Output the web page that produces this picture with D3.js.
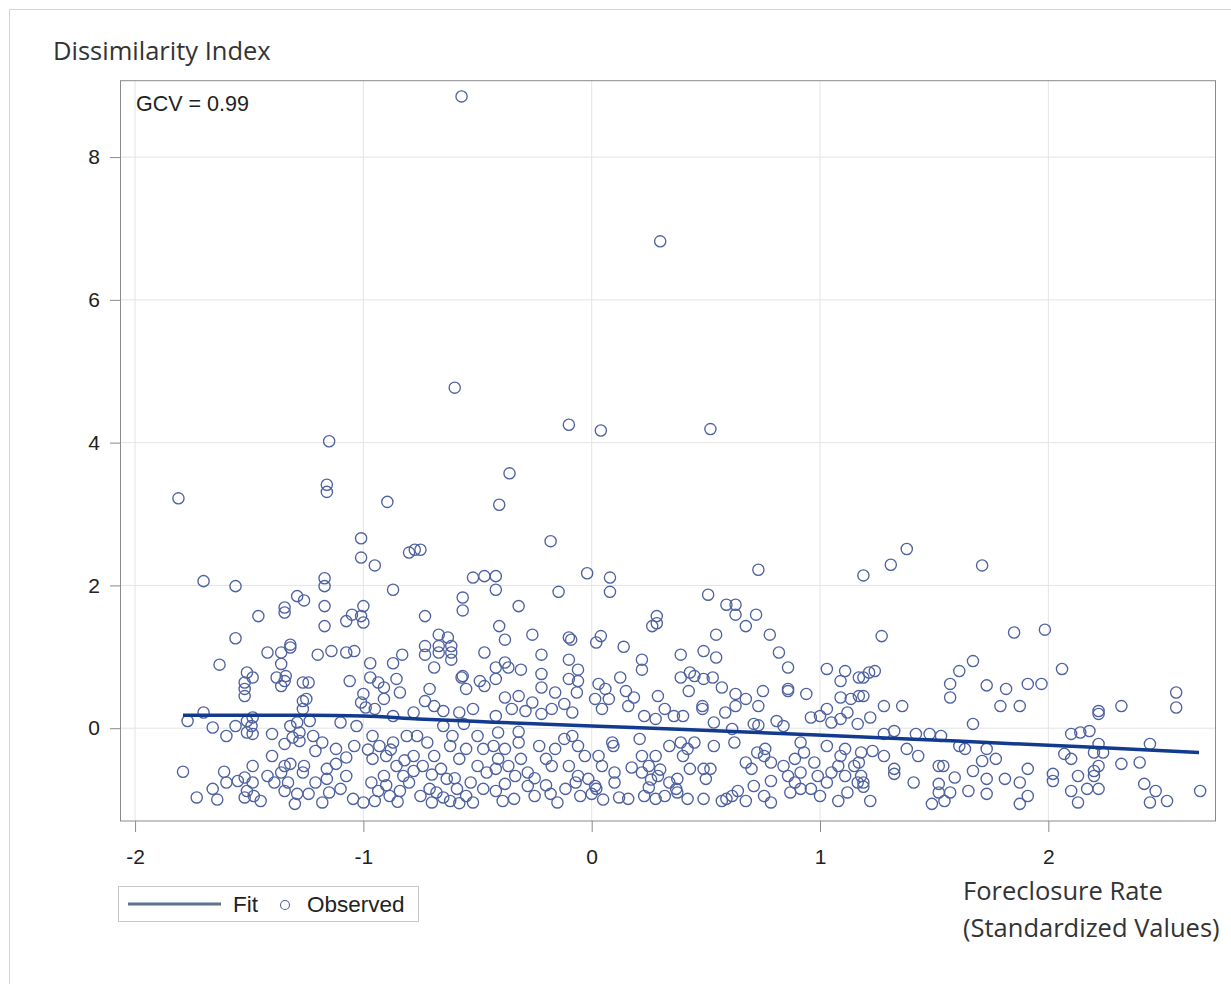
<!DOCTYPE html>
<html>
<head>
<meta charset="utf-8">
<script src="https://cdn.jsdelivr.net/npm/d3@7"></script>
<style>
  body { margin: 0; background: #fff; }
  svg { display: block; }
</style>
</head>
<body>
<div class="chart"></div>
<script>
// axis ticks
const xTicks = [-2, -1, 0, 1, 2];
const yTicks = [0, 2, 4, 6, 8];

// fitted curve (GCV spline)
const fitX = [-1.79, -1.5, -1.24, -1.0, -0.76, -0.43, 0, 0.38, 0.8, 1.19, 1.6, 2.0, 2.35, 2.66];
const fitY = [0.18, 0.18, 0.18, 0.17, 0.13, 0.085, 0.03, -0.015, -0.07, -0.125, -0.18, -0.24, -0.29, -0.34];

// observed points [foreclosure rate, dissimilarity index]
const observed = [
  [-0.57,8.85],[0.30,6.82],[-0.60,4.77],[-1.15,4.02],[-0.10,4.25],[0.04,4.17],[0.52,4.19],
  [-1.16,3.41],[-1.16,3.31],[-1.81,3.22],[-0.36,3.57],[-0.405,3.13],[-0.895,3.17],
  [-1.01,2.66],[-1.01,2.39],[-0.95,2.28],[-0.80,2.46],[-0.775,2.50],[-0.75,2.50],
  [-0.18,2.62],[0.73,2.22],[1.19,2.14],[1.31,2.29],[1.38,2.51],[1.71,2.28],
  [-1.70,2.06],[-1.56,1.99],[-1.17,2.10],[-1.17,1.99],[-0.87,1.94],
  [-0.52,2.11],[-0.47,2.13],[-0.42,2.13],[-0.42,1.94],[-0.02,2.17],[0.08,2.11],[0.08,1.91],[-0.145,1.91],[-0.32,1.71],
  [0.51,1.87],[0.59,1.73],[0.63,1.73],[0.63,1.59],[0.72,1.59],[0.675,1.43],[0.78,1.31],[0.82,1.06],[0.86,0.85],[1.03,0.83],
  [0.545,1.31],[0.545,0.99],[0.49,1.08],[0.39,1.03],[0.285,1.57],[0.285,1.47],[0.265,1.43],[0.14,1.14],[0.04,1.29],[0.02,1.20],[0.22,0.96],[0.22,0.82],
  [-0.10,1.27],[-0.09,1.24],[-0.10,0.96],[-0.22,1.03],[-0.26,1.31],[-0.405,1.43],[-0.38,1.24],[-0.47,1.06],[-0.38,0.92],[-0.365,0.85],[-0.31,0.82],[-0.06,0.82],[-0.42,0.85],
  [-1.29,1.85],[-1.26,1.79],[-1.17,1.71],[-1.345,1.69],[-1.345,1.62],[-1.46,1.57],[-1.17,1.43],[-1.0,1.71],[-1.05,1.59],[-1.075,1.50],[-1.01,1.57],[-1.0,1.48],[-0.73,1.57],[-0.565,1.83],[-0.565,1.65],
  [-1.56,1.26],[-1.42,1.06],[-1.36,1.06],[-1.32,1.17],[-1.32,1.13],[-1.36,0.90],[-1.63,0.89],[-1.20,1.03],[-1.14,1.08],[-1.075,1.06],[-1.04,1.08],[-0.97,0.91],[-0.87,0.91],[-0.83,1.03],
  [-0.67,1.31],[-0.63,1.27],[-0.73,1.15],[-0.67,1.15],[-0.615,1.15],[-0.67,1.06],[-0.615,1.06],[-0.73,1.03],[-0.615,0.96],[-0.69,0.85],[-0.565,0.73],[-1.51,0.78],
  [1.27,1.29],[1.85,1.34],[1.985,1.38],[1.67,0.94],[1.61,0.80],[1.57,0.62],[1.57,0.43],[1.73,0.60],[1.815,0.55],[1.91,0.62],[1.97,0.62],[1.79,0.31],[1.875,0.31],
  [1.24,0.80],[1.215,0.78],[1.19,0.71],[1.19,0.45],[1.28,0.31],[1.36,0.31],[1.22,0.15],[1.67,0.06],
  [2.06,0.83],[2.56,0.50],[2.56,0.29],[2.32,0.31],[2.22,0.24],[2.22,0.20],
  // left part of the band
  [-1.485,0.71],[-1.52,0.64],[-1.52,0.55],[-1.52,0.45],[-1.38,0.71],[-1.345,0.66],[-1.36,0.59],[-1.34,0.73],[-1.265,0.64],[-1.265,0.38],
  [-1.70,0.22],[-1.77,0.10],[-1.66,0.01],[-1.60,-0.11],[-1.56,0.03],[-1.51,0.10],[-1.485,0.15],[-1.49,0.03],[-1.51,-0.06],[-1.485,-0.08],
  [-1.40,-0.08],[-1.345,-0.22],[-1.32,0.03],[-1.29,0.08],[-1.28,-0.06],[-1.28,-0.18],[-1.31,-0.13],[-1.40,-0.39],
  [-1.79,-0.61],[-1.61,-0.61],[-1.60,-0.76],[-1.66,-0.85],[-1.73,-0.97],[-1.64,-1.0],
  [-1.55,-0.74],[-1.52,-0.69],[-1.485,-0.53],[-1.485,-0.76],[-1.51,-0.88],[-1.48,-0.95],[-1.45,-1.02],[-1.52,-0.97],
  [-1.42,-0.67],[-1.39,-0.76],[-1.36,-0.62],[-1.345,-0.53],[-1.32,-0.50],[-1.33,-0.76],[-1.345,-0.88],[-1.29,-0.92],[-1.30,-1.06],[-1.265,-0.62],
  // -1.25 .. -0.45
  [-1.24,0.64],[-1.06,0.66],[-0.97,0.71],[-0.935,0.64],[-0.91,0.57],[-0.855,0.69],[-0.84,0.50],[-0.71,0.55],[-0.73,0.38],[-0.69,0.31],[-0.57,0.71],[-0.55,0.55],[-0.49,0.66],[-0.47,0.59],
  [-1.0,0.48],[-1.01,0.36],[-0.99,0.29],[-0.91,0.41],[-0.95,0.27],[-1.25,0.41],[-1.265,0.27],
  [-0.87,0.17],[-0.78,0.22],[-0.65,0.24],[-0.58,0.22],[-0.52,0.27],[-1.235,0.10],[-1.10,0.08],[-1.03,0.03],
  [-1.22,-0.11],[-1.18,-0.20],[-1.21,-0.32],[-1.12,-0.29],[-1.075,-0.41],[-1.04,-0.25],[-1.26,-0.53],[-1.16,-0.57],[-1.16,-0.71],[-1.21,-0.76],[-1.24,-0.92],[-1.15,-0.90],[-1.18,-1.04],[-1.075,-0.67],[-1.045,-0.99],[-1.0,-1.04],
  [-0.96,-0.11],[-0.93,-0.25],[-0.96,-0.43],[-0.90,-0.39],[-0.87,-0.20],[-0.855,-0.53],[-0.91,-0.67],[-0.965,-0.76],[-0.935,-0.88],[-0.885,-0.95],[-0.84,-0.88],[-0.825,-0.67],[-0.80,-0.76],[-0.78,-0.39],[-0.765,-0.11],[-0.81,-0.11],
  [-0.72,-0.20],[-0.69,-0.39],[-0.74,-0.53],[-0.66,-0.57],[-0.635,-0.71],[-0.71,-0.85],[-0.65,-0.97],[-0.62,-1.02],[-0.75,-0.95],[-0.59,-0.85],[-0.58,-0.43],[-0.55,-0.29],[-0.61,-0.11],[-0.50,-0.11],[-0.475,-0.29],[-0.50,-0.53],[-0.46,-0.62],[-0.53,-0.76],[-0.475,-0.85],[-0.52,-1.04],
  [-0.65,0.03],[-0.56,0.06],
  [-0.98,-0.30],[-0.88,-0.30],[-0.82,-0.45],[-0.70,-0.65],[-0.60,-0.70],[-0.68,-0.90],[-0.55,-0.95],[-0.90,-0.80],[-1.10,-0.85],[-1.12,-0.50],[-0.62,-0.25],[-0.78,-0.60],[-0.95,-1.02],[-0.85,-1.03],[-0.58,-1.05],[-0.70,-1.04],
  // -0.45 .. 0.4
  [-0.42,0.69],[-0.22,0.76],[-0.22,0.57],[-0.10,0.69],[-0.06,0.66],[-0.065,0.50],[-0.16,0.50],[-0.12,0.34],
  [-0.38,0.43],[-0.32,0.45],[-0.26,0.36],[-0.35,0.27],[-0.29,0.24],[-0.22,0.20],[-0.175,0.27],
  [0.03,0.62],[0.06,0.55],[0.125,0.71],[0.15,0.52],[0.185,0.43],[0.16,0.31],[0.29,0.45],[0.045,0.27],[0.015,0.41],[0.075,0.41],
  [0.23,0.17],[0.28,0.13],[0.32,0.27],[0.36,0.17],[-0.42,0.17],[-0.085,0.22],
  [-0.41,-0.06],[-0.43,-0.25],[-0.38,-0.29],[-0.41,-0.43],[-0.42,-0.57],[-0.365,-0.53],[-0.32,-0.20],[-0.31,-0.43],[-0.28,-0.62],[-0.335,-0.67],[-0.38,-0.78],[-0.42,-0.88],[-0.39,-1.02],[-0.34,-0.99],[-0.28,-0.81],[-0.25,-0.95],[-0.23,-0.25],[-0.20,-0.43],[-0.175,-0.53],[-0.16,-0.29],[-0.18,-0.92],[-0.15,-1.04],[-0.115,-0.85],[-0.10,-0.53],[-0.085,-0.11],[-0.06,-0.25],[-0.03,-0.39],[-0.06,-0.67],[-0.015,-0.71],[0.015,-0.81],[0.0,-0.92],[-0.07,-0.76],[0.03,-0.39],[0.09,-0.20],[0.095,-0.25],[0.045,-0.53],[0.10,-0.62],[0.10,-0.76],[0.12,-0.97],[0.16,-0.99],[0.175,-0.55],[0.22,-0.39],[0.25,-0.53],[0.28,-0.39],[0.22,-0.62],[0.29,-0.67],[0.34,-0.76],[0.25,-0.83],[0.28,-0.99],[0.32,-0.95],[0.37,-0.85],[0.21,-0.15],[0.34,-0.25],
  [-0.25,-0.70],[-0.20,-0.80],[-0.05,-0.95],[0.05,-1.0],[0.02,-0.85],[0.26,-0.72],[0.30,-0.58],[-0.32,-0.05],[-0.12,-0.15],[0.23,-0.95],
  // 0.4 .. 1.2
  [0.39,0.71],[0.43,0.78],[0.45,0.73],[0.49,0.69],[0.53,0.71],[0.425,0.52],[0.57,0.57],[0.63,0.48],[0.675,0.41],[0.75,0.52],[0.73,0.31],[0.86,0.55],[0.86,0.52],[0.94,0.48],[0.63,0.31],[0.585,0.22],[0.485,0.31],[0.485,0.27],
  [0.40,0.17],[0.535,0.08],[0.615,-0.01],[0.71,0.06],[0.73,0.04],[0.81,0.10],[0.84,0.03],
  [1.11,0.80],[1.09,0.66],[1.17,0.71],[1.09,0.43],[1.135,0.41],[1.17,0.45],[1.03,0.27],[0.96,0.15],[1.0,0.17],[1.05,0.08],[1.12,0.22],[1.165,0.06],[1.09,0.13],
  [0.39,-0.20],[0.42,-0.29],[0.45,-0.20],[0.40,-0.39],[0.535,-0.25],[0.625,-0.20],
  [0.43,-0.57],[0.49,-0.57],[0.52,-0.57],[0.50,-0.71],[0.375,-0.71],[0.375,-0.90],[0.42,-0.99],[0.49,-0.99],[0.59,-0.99],[0.64,-0.88],[0.675,-0.48],[0.70,-0.57],[0.725,-0.34],[0.755,-0.39],[0.76,-0.29],[0.785,-0.48],[0.785,-0.74],[0.71,-0.81],[0.755,-0.95],[0.785,-1.04],[0.675,-1.02],[0.84,-0.53],[0.89,-0.43],[0.86,-0.67],[0.89,-0.76],[0.87,-0.90],[0.915,-0.85],[0.915,-0.62],[0.93,-0.34],[0.975,-0.48],[0.99,-0.67],[0.96,-0.85],[1.0,-0.95],[1.03,-0.76],[1.05,-0.62],[1.08,-0.53],[1.11,-0.67],[1.09,-0.39],[1.03,-0.25],[1.11,-0.29],[1.15,-0.53],[1.165,-0.76],[1.08,-1.02],[1.12,-0.90],[0.915,-0.20],[1.18,-0.34],[0.57,-1.02],[0.615,-0.95],
  // 1.2 .. 2.0
  [1.28,-0.08],[1.325,-0.04],[1.42,-0.08],[1.48,-0.08],[1.53,-0.11],[1.23,-0.32],[1.28,-0.39],[1.38,-0.29],[1.43,-0.39],[1.61,-0.25],[1.635,-0.29],[1.73,-0.29],[1.77,-0.43],[1.71,-0.46],[1.17,-0.48],
  [1.325,-0.57],[1.325,-0.64],[1.52,-0.53],[1.54,-0.53],[1.59,-0.69],[1.67,-0.60],[1.73,-0.71],[1.81,-0.71],[1.875,-0.76],[1.91,-0.57],[1.41,-0.76],[1.52,-0.78],[1.52,-0.90],[1.57,-0.90],[1.65,-0.88],[1.73,-0.92],[1.49,-1.06],[1.545,-1.02],[1.91,-0.95],[1.875,-1.06],[1.19,-0.76],[1.19,-0.82],[1.22,-1.02],[1.18,-0.67],
  // right end
  [2.10,-0.08],[2.14,-0.06],[2.18,-0.04],[2.22,-0.22],[2.445,-0.22],[2.07,-0.36],[2.10,-0.43],[2.20,-0.34],[2.24,-0.34],[2.22,-0.53],[2.20,-0.60],[2.20,-0.67],[2.32,-0.50],[2.40,-0.48],[2.02,-0.64],[2.02,-0.74],[2.13,-0.67],[2.10,-0.88],[2.17,-0.85],[2.22,-0.85],[2.13,-1.04],[2.42,-0.78],[2.47,-0.88],[2.445,-1.04],[2.52,-1.02],[2.665,-0.88]
];

const width = 1231;
const height = 984;
const plot = {left: 120, right: 1215, top: 80.7, bottom: 821};

const svg = d3.select('.chart').append('svg')
  .attr('width', width)
  .attr('height', height);

// outer frame of the graph
svg.append('rect')
  .attr('x', 9.5).attr('y', 9.5)
  .attr('width', 1240).attr('height', 990)
  .attr('fill', 'none')
  .attr('stroke', '#d4d4d4');

const x = d3.scaleLinear().domain([-2.066, 2.730]).range([plot.left, plot.right]);
const y = d3.scaleLinear().domain([-1.30, 9.07]).range([plot.bottom, plot.top]);

// grid
svg.append('g')
  .selectAll('line.vg')
  .data(xTicks)
  .enter().append('line')
  .attr('x1', d => x(d)).attr('x2', d => x(d))
  .attr('y1', plot.top).attr('y2', plot.bottom)
  .attr('stroke', '#e4e4e4');

svg.append('g')
  .selectAll('line.hg')
  .data(yTicks)
  .enter().append('line')
  .attr('x1', plot.left).attr('x2', plot.right)
  .attr('y1', d => y(d)).attr('y2', d => y(d))
  .attr('stroke', '#e4e4e4');

// axes (plain hyphen for negatives, like the original)
const fmt = d => String(d);
const xAxis = svg.append('g')
  .attr('transform', `translate(0,${plot.bottom})`)
  .call(d3.axisBottom(x).tickValues(xTicks).tickSize(11).tickPadding(17).tickFormat(fmt));

const yAxis = svg.append('g')
  .attr('transform', `translate(${plot.left},0)`)
  .call(d3.axisLeft(y).tickValues(yTicks).tickSize(10).tickPadding(10).tickFormat(fmt));

[xAxis, yAxis].forEach(g => {
  g.select('.domain').remove();
  g.selectAll('line').attr('stroke', '#8a8a8a');
  g.selectAll('text')
    .attr('fill', '#222')
    .style('font-family', '"Liberation Sans", Arial, sans-serif')
    .style('font-size', '21px');
});

// points
svg.append('g')
  .selectAll('circle')
  .data(observed)
  .enter().append('circle')
  .attr('cx', d => x(d[0]))
  .attr('cy', d => y(d[1]))
  .attr('r', 5.6)
  .attr('fill', 'none')
  .attr('stroke', '#4f62a0')
  .attr('stroke-width', 1.35);

// fit line
const fit = fitX.map((v, i) => [v, fitY[i]]);
svg.append('path')
  .datum(fit)
  .attr('d', d3.line().x(d => x(d[0])).y(d => y(d[1])).curve(d3.curveMonotoneX))
  .attr('fill', 'none')
  .attr('stroke', '#123a8e')
  .attr('stroke-width', 3.5);

// plot frame
svg.append('rect')
  .attr('x', plot.left + 0.5).attr('y', plot.top)
  .attr('width', plot.right - plot.left).attr('height', plot.bottom - plot.top)
  .attr('fill', 'none')
  .attr('stroke', '#8a8a8a');

// texts
svg.append('text')
  .attr('x', 136).attr('y', 111)
  .attr('fill', '#222')
  .style('font-family', '"Liberation Sans", Arial, sans-serif')
  .style('font-size', '21.5px')
  .text('GCV = 0.99');

const labelFont = '"Open Sans", Lato, sans-serif';

svg.append('text')
  .attr('x', 53).attr('y', 60)
  .attr('fill', '#333')
  .style('font-family', labelFont)
  .style('font-size', '25.5px')
  .text('Dissimilarity Index');

svg.append('text')
  .attr('x', 963).attr('y', 900)
  .attr('fill', '#333')
  .style('font-family', labelFont)
  .style('font-size', '25.5px')
  .text('Foreclosure Rate');

svg.append('text')
  .attr('x', 963).attr('y', 937)
  .attr('fill', '#333')
  .style('font-family', labelFont)
  .style('font-size', '25.5px')
  .text('(Standardized Values)');

// legend
const legend = svg.append('g');
legend.append('rect')
  .attr('x', 118.5).attr('y', 886.5)
  .attr('width', 300).attr('height', 35)
  .attr('fill', 'none')
  .attr('stroke', '#c8c8c8');
legend.append('line')
  .attr('x1', 128).attr('x2', 221)
  .attr('y1', 904).attr('y2', 904)
  .attr('stroke', '#5d7390')
  .attr('stroke-width', 3);
legend.append('text')
  .attr('x', 233).attr('y', 912)
  .attr('fill', '#222')
  .style('font-family', '"Liberation Sans", Arial, sans-serif')
  .style('font-size', '22.5px')
  .text('Fit');
legend.append('circle')
  .attr('cx', 285).attr('cy', 905)
  .attr('r', 4.5)
  .attr('fill', 'none')
  .attr('stroke', '#4f62a0')
  .attr('stroke-width', 1.1);
legend.append('text')
  .attr('x', 307).attr('y', 912)
  .attr('fill', '#222')
  .style('font-family', '"Liberation Sans", Arial, sans-serif')
  .style('font-size', '22.5px')
  .text('Observed');
</script>
</body>
</html>
